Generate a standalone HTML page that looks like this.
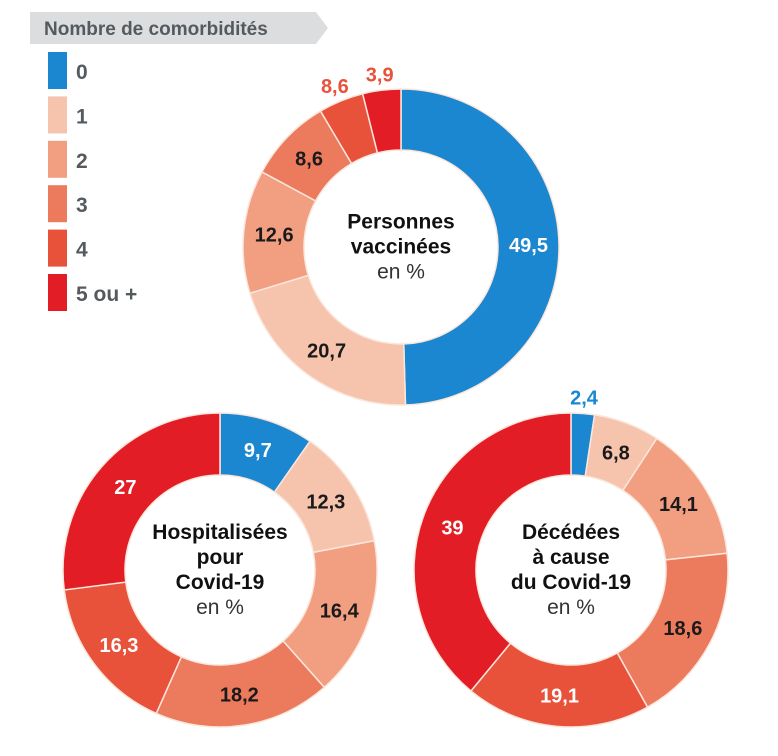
<!DOCTYPE html>
<html><head><meta charset="utf-8"><style>
html,body{margin:0;padding:0;background:#fff;}
svg{display:block;font-family:"Liberation Sans",sans-serif;}
</style></head><body>
<svg id="chart" width="778" height="756" viewBox="0 0 778 756">
  <g>
    <path d="M30,12 H316 L328,28 L316,44 H30 Z" fill="#dcddde"/>
    <text x="44" y="35" font-size="19" font-weight="bold" fill="#555a5e">Nombre de comorbidités</text>
    <g id="legend-items"></g>
  </g>
  <g id="donuts"></g>
</svg>
<script>
const categories = ["0", "1", "2", "3", "4", "5 ou +"];
const colors = ["#1a87d0", "#f6c3ad", "#f19f80", "#ec7a5d", "#e8523a", "#e31d25"];
const textColors = ["#fff", "#1a1a1a", "#1a1a1a", "#1a1a1a", "#fff", "#fff"];

const vaccineValues = [49.5, 20.7, 12.6, 8.6, 4.6, 3.9];
const vaccineLabels = ["49,5", "20,7", "12,6", "8,6", "8,6", "3,9"];
const hospValues = [9.7, 12.3, 16.4, 18.2, 16.3, 27];
const hospLabels = ["9,7", "12,3", "16,4", "18,2", "16,3", "27"];
const deathValues = [2.4, 6.8, 14.1, 18.6, 19.1, 39];
const deathLabels = ["2,4", "6,8", "14,1", "18,6", "19,1", "39"];

const NS = "http://www.w3.org/2000/svg";
const legend = document.getElementById("legend-items");
const donuts = document.getElementById("donuts");

categories.forEach((c, i) => {
  const y = 52 + i * 44.4;
  const r = document.createElementNS(NS, "rect");
  r.setAttribute("x", 48); r.setAttribute("y", y);
  r.setAttribute("width", 19); r.setAttribute("height", 37);
  r.setAttribute("fill", colors[i]);
  
  
  legend.appendChild(r);
  const t = document.createElementNS(NS, "text");
  t.setAttribute("x", 76); t.setAttribute("y", y + 27);
  t.setAttribute("font-size", "21"); t.setAttribute("font-weight", "bold");
  t.setAttribute("fill", "#555a5e");
  t.textContent = c;
  
  
  legend.appendChild(t);
});

function pt(cx, cy, r, a) { return [cx + r * Math.sin(a), cy - r * Math.cos(a)]; }

function donut(name, cx, cy, R, r0, values, labels, outside, title) {
  const g = document.createElementNS(NS, "g");
  
  
  donuts.appendChild(g);
  const total = values.reduce((a, b) => a + b, 0);
  let acc = 0;
  values.forEach((v, i) => {
    const a0 = acc / total * 2 * Math.PI;
    acc += v;
    const a1 = acc / total * 2 * Math.PI;
    const large = (a1 - a0) > Math.PI ? 1 : 0;
    const p0 = pt(cx, cy, R, a0), p1 = pt(cx, cy, R, a1);
    const q1 = pt(cx, cy, r0, a1), q0 = pt(cx, cy, r0, a0);
    const p = document.createElementNS(NS, "path");
    p.setAttribute("d", `M${p0[0]},${p0[1]} A${R},${R} 0 ${large} 1 ${p1[0]},${p1[1]} L${q1[0]},${q1[1]} A${r0},${r0} 0 ${large} 0 ${q0[0]},${q0[1]} Z`);
    p.setAttribute("fill", colors[i]);
    p.setAttribute("stroke", "#fbe6dc"); p.setAttribute("stroke-width", "1.5");
    
    
    g.appendChild(p);
    const am = (a0 + a1) / 2;
    const isOut = outside.includes(i);
    let lp, fill;
    if (isOut) {
      lp = pt(cx, cy, R + 16, am);
      fill = i === 0 ? "#1a87d0" : "#e8523a";
    } else {
      lp = pt(cx, cy, (R + r0) / 2, am);
      fill = textColors[i];
    }
    const t = document.createElementNS(NS, "text");
    t.setAttribute("x", lp[0]); t.setAttribute("y", lp[1] + 7);
    t.setAttribute("text-anchor", "middle");
    t.setAttribute("font-size", "20"); t.setAttribute("font-weight", "bold");
    t.setAttribute("fill", fill);
    t.textContent = labels[i];
    
    
    g.appendChild(t);
  });
  const n = title.length;
  const startY = cy - (n * 25) / 2 + 19;
  title.forEach((line, k) => {
    const t = document.createElementNS(NS, "text");
    t.setAttribute("x", cx); t.setAttribute("y", startY + k * 25);
    t.setAttribute("text-anchor", "middle");
    t.setAttribute("font-size", "21");
    const last = k === n - 1;
    t.setAttribute("font-weight", last ? "normal" : "bold");
    t.setAttribute("fill", last ? "#333" : "#111");
    t.textContent = line;
    
    
    g.appendChild(t);
  });
}

donut("vaccinated-donut", 401, 247, 158, 97, vaccineValues, vaccineLabels, [4, 5], ["Personnes", "vaccinées", "en %"]);
donut("hospitalized-donut", 220, 570, 157, 95, hospValues, hospLabels, [], ["Hospitalisées", "pour", "Covid-19", "en %"]);
donut("deceased-donut", 571, 570, 157, 95, deathValues, deathLabels, [0], ["Décédées", "à cause", "du Covid-19", "en %"]);
</script>
</body></html>
